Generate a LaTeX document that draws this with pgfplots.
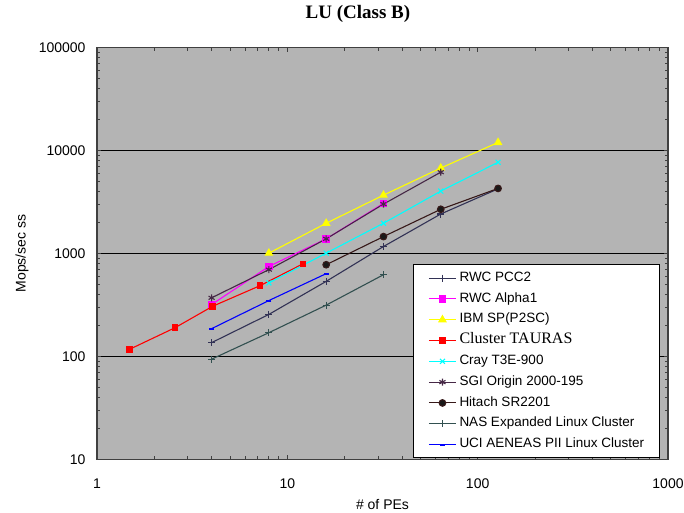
\documentclass[border=0pt]{standalone}
\usepackage{fontspec}
\setmainfont{Liberation Sans}
\newfontfamily\serif{Liberation Serif}
\usepackage{pgfplots}
\pgfplotsset{compat=1.18}
\definecolor{bg}{RGB}{180,180,180}
\definecolor{bord}{RGB}{64,64,64}
\definecolor{pcc}{RGB}{50,50,85}
\definecolor{sgi}{RGB}{70,40,70}
\definecolor{hit}{RGB}{55,25,25}
\definecolor{nas}{RGB}{50,80,80}
\definecolor{mag}{RGB}{255,0,255}
\definecolor{yel}{RGB}{255,255,0}
\definecolor{cya}{RGB}{0,255,255}
\definecolor{rd}{RGB}{255,0,0}
\definecolor{bl}{RGB}{0,0,255}
\begin{document}
\begin{tikzpicture}
\begin{axis}[
  scale only axis, width=571pt, height=411.6pt,
  xmode=log, ymode=log,
  xmin=1, xmax=1000, ymin=10, ymax=100000,
  xtick={1,10,100,1000}, xticklabels={1,10,100,1000},
  ytick={10,100,1000,10000,100000}, yticklabels={10,100,1000,10000,100000},
  minor tick num=0, minor xtick={}, minor ytick={},
  tick align=inside, major tick length=4pt,
  tick style={bord, line width=0.8pt},
  ymajorgrids, major grid style={black, line width=1.3pt},
  axis line style={bord, line width=1.3pt},
  axis background/.style={fill=bg},
  xticklabel style={font=\fontsize{14}{16}\selectfont, anchor=center, yshift=-24.7pt, inner sep=0pt},
  yticklabel style={font=\fontsize{14}{16}\selectfont, anchor=east, inner sep=0pt, xshift=-11.3pt},
  title={\serif\bfseries LU (Class B)},
  title style={font=\fontsize{19}{22}\selectfont, at={(axis description cs:0.457,1)}, anchor=center, yshift=27.7pt},
  xlabel={\# of PEs},
  xlabel style={font=\fontsize{14}{16}\selectfont, at={(axis description cs:0.5,0)}, anchor=center, yshift=-45.7pt},
  ylabel={Mops/sec ss},
  ylabel style={font=\fontsize{14}{16}\selectfont, at={(axis description cs:-0.1313,0.5)}, anchor=center},
  legend style={at={(axis description cs:0.5534,0.4733)}, anchor=north west,
    draw=black, line width=0.8pt, fill=white,
    font=\fontsize{13.5}{15}\selectfont,
    inner xsep=15pt, inner ysep=6.5pt, row sep=7.3pt, column sep=3pt,
    nodes={inner sep=0pt, text height=10pt, text depth=3.5pt},
    cells={anchor=west}},
  legend image code/.code={\draw[mark repeat=2, mark phase=2, #1] plot coordinates {(0pt,0pt) (13.5pt,0pt) (27pt,0pt)};},
  every axis plot/.append style={line width=1.1pt},
]
\addplot[pcc, mark=+, mark size=3.5pt] coordinates {(4,136) (8,256) (16,536) (32,1169) (64,2420) (128,4250)};
\addlegendentry{RWC PCC2}
\addplot[mag, mark=square*, mark size=3.3pt, mark options={fill=mag}] coordinates {(4,319) (8,748) (16,1388) (32,3070)};
\addlegendentry{RWC Alpha1}
\addplot[yel, mark=triangle*, mark size=4pt, mark options={fill=yel}] coordinates {(8,1008) (16,1968) (32,3690) (64,6770) (128,12000)};
\addlegendentry{IBM SP(P2SC)}
\addplot[rd, mark=square*, mark size=2.7pt, mark options={fill=rd}] coordinates {(1.48,117) (2.57,190) (4.05,307) (7.19,487) (12.1,795)};
\addlegendentry{{\serif\fontsize{16}{18}\selectfont Cluster TAURAS}}
\addplot[cya, mark=x, mark size=3.5pt] coordinates {(8,518) (16,1008) (32,1968) (64,4040) (128,7700)};
\addlegendentry{Cray T3E-900}
\addplot[sgi, mark=asterisk, mark size=3.5pt] coordinates {(4,371) (8,697) (16,1388) (32,3020) (64,6170)};
\addlegendentry{SGI Origin 2000-195}
\addplot[hit, mark=*, mark size=3.3pt, mark options={fill=black!90}] coordinates {(16,778) (32,1460) (64,2690) (128,4290)};
\addlegendentry{Hitach SR2201}
\addplot[nas, mark=+, mark size=3.5pt] coordinates {(4,94) (8,170) (16,315) (32,622)};
\addlegendentry{NAS Expanded Linux Cluster}
\addplot[bl, mark=-, mark size=2.5pt, mark options={line width=2pt}] coordinates {(4,186) (8,349) (16,637)};
\addlegendentry{UCI AENEAS PII Linux Cluster}
\end{axis}
\pgfresetboundingbox
\path[use as bounding box] (-97pt,-53.7pt) rectangle (587pt,459.3pt);
\end{tikzpicture}
\end{document}
